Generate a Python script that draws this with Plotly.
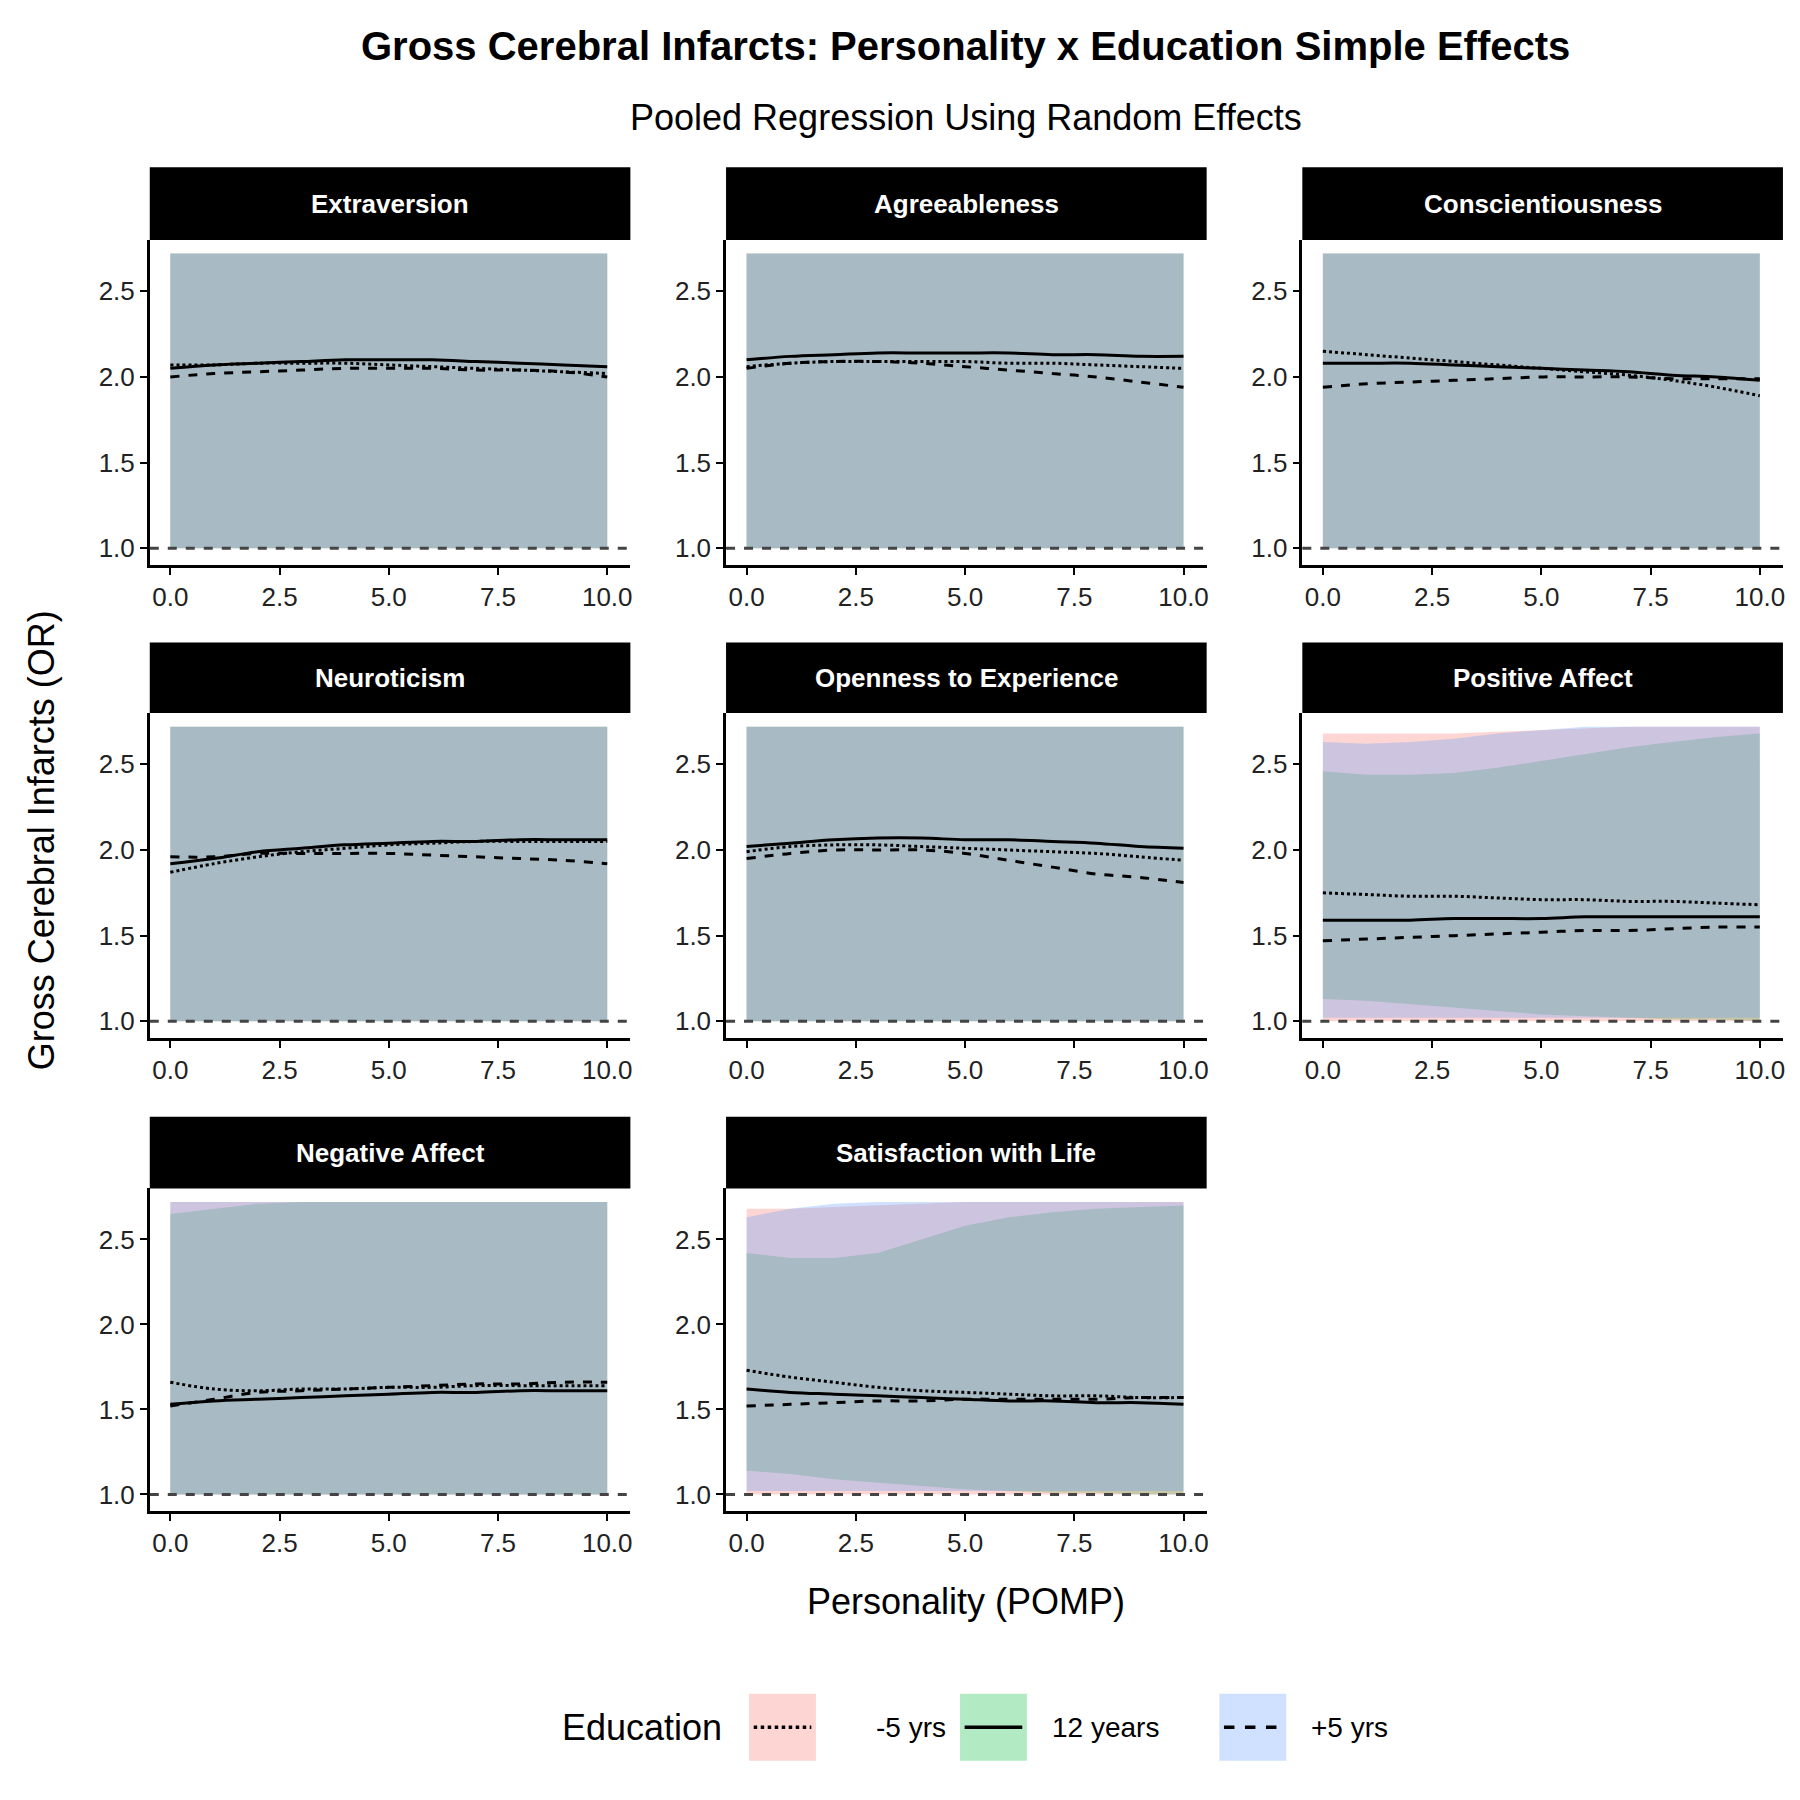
import plotly.graph_objects as go

W = 1560.0
panels = ["Extraversion", "Agreeableness", "Conscientiousness", "Neuroticism",
          "Openness to Experience", "Positive Affect", "Negative Affect", "Satisfaction with Life"]
x = [0, 1, 2, 3, 4, 5, 6, 7, 8, 9, 10]
groups = ["-5 yrs", "12 years", "+5 yrs"]
fill_order = ["12 years", "-5 yrs", "+5 yrs"]
dashes = {"-5 yrs": "dot", "12 years": "solid", "+5 yrs": "dash"}
fills = {"-5 yrs": "rgba(248,118,109,0.3)", "12 years": "rgba(0,186,56,0.3)", "+5 yrs": "rgba(97,156,255,0.3)"}

lines = {
 "Extraversion": {"-5 yrs": [2.07,2.07,2.08,2.08,2.08,2.07,2.06,2.05,2.04,2.03,2.02],
                  "12 years": [2.05,2.07,2.08,2.09,2.10,2.10,2.10,2.09,2.08,2.07,2.06],
                  "+5 yrs": [2.00,2.02,2.03,2.04,2.05,2.05,2.05,2.04,2.04,2.03,2.00]},
 "Agreeableness": {"-5 yrs": [2.06,2.08,2.09,2.09,2.09,2.09,2.08,2.08,2.07,2.06,2.05],
                   "12 years": [2.10,2.12,2.13,2.14,2.14,2.14,2.14,2.13,2.13,2.12,2.12],
                   "+5 yrs": [2.05,2.08,2.09,2.09,2.08,2.06,2.04,2.02,2.00,1.97,1.94]},
 "Conscientiousness": {"-5 yrs": [2.15,2.13,2.11,2.09,2.07,2.05,2.03,2.01,1.98,1.94,1.89],
                       "12 years": [2.08,2.08,2.08,2.07,2.06,2.05,2.04,2.03,2.01,2.00,1.98],
                       "+5 yrs": [1.94,1.96,1.97,1.98,1.99,2.00,2.00,2.00,1.99,1.99,1.99]},
 "Neuroticism": {"-5 yrs": [1.87,1.92,1.96,1.99,2.01,2.03,2.04,2.05,2.05,2.05,2.05],
                 "12 years": [1.92,1.95,1.99,2.01,2.03,2.04,2.05,2.05,2.06,2.06,2.06],
                 "+5 yrs": [1.96,1.96,1.98,1.98,1.98,1.98,1.97,1.96,1.95,1.94,1.92]},
 "Openness to Experience": {"-5 yrs": [1.99,2.02,2.03,2.03,2.02,2.01,2.00,1.99,1.98,1.96,1.94],
                            "12 years": [2.02,2.04,2.06,2.07,2.07,2.06,2.06,2.05,2.04,2.02,2.01],
                            "+5 yrs": [1.95,1.98,2.00,2.00,2.00,1.98,1.94,1.90,1.86,1.84,1.81]},
 "Positive Affect": {"-5 yrs": [1.75,1.74,1.73,1.73,1.72,1.71,1.71,1.70,1.70,1.69,1.68],
                     "12 years": [1.59,1.59,1.59,1.60,1.60,1.60,1.61,1.61,1.61,1.61,1.61],
                     "+5 yrs": [1.47,1.48,1.49,1.50,1.51,1.52,1.53,1.53,1.54,1.55,1.55]},
 "Negative Affect": {"-5 yrs": [1.66,1.62,1.61,1.62,1.62,1.63,1.63,1.64,1.64,1.64,1.64],
                     "12 years": [1.53,1.55,1.56,1.57,1.58,1.59,1.60,1.60,1.61,1.61,1.61],
                     "+5 yrs": [1.52,1.56,1.60,1.61,1.62,1.63,1.64,1.65,1.65,1.66,1.66]},
 "Satisfaction with Life": {"-5 yrs": [1.73,1.69,1.66,1.63,1.61,1.60,1.59,1.58,1.58,1.57,1.57],
                            "12 years": [1.62,1.60,1.59,1.58,1.57,1.56,1.55,1.55,1.54,1.54,1.53],
                            "+5 yrs": [1.52,1.53,1.54,1.55,1.55,1.56,1.56,1.56,1.56,1.57,1.57]},
}

default_upper = [2.72]*11
default_lower = [1.0]*11
upper_override = {
 ("Positive Affect", "-5 yrs"): [2.68,2.68,2.68,2.68,2.69,2.70,2.71,2.72,2.72,2.72,2.72],
 ("Positive Affect", "12 years"): [2.46,2.44,2.44,2.45,2.48,2.52,2.56,2.60,2.63,2.66,2.68],
 ("Positive Affect", "+5 yrs"): [2.63,2.62,2.63,2.65,2.68,2.70,2.72,2.72,2.72,2.72,2.72],
 ("Satisfaction with Life", "-5 yrs"): [2.68,2.68,2.69,2.70,2.71,2.72,2.72,2.72,2.72,2.72,2.72],
 ("Satisfaction with Life", "12 years"): [2.42,2.39,2.39,2.42,2.50,2.58,2.63,2.66,2.68,2.69,2.70],
 ("Satisfaction with Life", "+5 yrs"): [2.63,2.68,2.71,2.72,2.72,2.72,2.72,2.72,2.72,2.72,2.72],
 ("Negative Affect", "12 years"): [2.65,2.68,2.71,2.72,2.72,2.72,2.72,2.72,2.72,2.72,2.72],
}
lower_override = {
 ("Positive Affect", "+5 yrs"): [1.02]*11,
 ("Positive Affect", "12 years"): [1.13,1.12,1.10,1.08,1.06,1.04,1.03,1.02,1.01,1.01,1.0],
 ("Satisfaction with Life", "+5 yrs"): [1.02]*11,
 ("Satisfaction with Life", "12 years"): [1.14,1.12,1.09,1.07,1.05,1.03,1.02,1.01,1.01,1.0,1.0],
}
yticks = [1.0, 1.5, 2.0, 2.5]
xticks = [0, 2.5, 5, 7.5, 10]

FONT = "Liberation Sans, Arial, sans-serif"
colx = [(130, 547), (630, 1047), (1130, 1547)]
rowy = [(145, 208, 490), (557, 618, 900), (968, 1030, 1310)]
OFF = 7
px = lambda v: (v - OFF) / W
py = lambda v: 1 - (v - OFF) / W

fig = go.Figure()
layout = {}
shapes, annos = [], []
for i, p in enumerate(panels):
    r, c = divmod(i, 3)
    n = i + 1
    xa = "x" if n == 1 else f"x{n}"
    ya = "y" if n == 1 else f"y{n}"
    for g in fill_order:
        up = upper_override.get((p, g), default_upper)
        lo = lower_override.get((p, g), default_lower)
        fig.add_trace(go.Scatter(x=x + x[::-1], y=up + lo[::-1], fill="toself", fillcolor=fills[g],
                                 line=dict(width=0), mode="lines", xaxis=xa, yaxis=ya,
                                 showlegend=False, hoverinfo="skip"))
    for g in groups:
        fig.add_trace(go.Scatter(x=x, y=lines[p][g], mode="lines",
                                 line=dict(color="black", width=3, dash=dashes[g], shape="spline"),
                                 xaxis=xa, yaxis=ya, showlegend=False))
    tf = dict(size=26, color="#222", family=FONT)
    ax = dict(domain=[px(colx[c][0]), px(colx[c][1])], range=[-0.47, 10.53], tickvals=xticks,
              ticktext=["0.0", "2.5", "5.0", "7.5", "10.0"], showgrid=False, zeroline=False,
              showline=True, linecolor="black", linewidth=2.5, ticks="outside", ticklen=7, tickwidth=2,
              tickcolor="black", tickfont=tf, anchor=ya)
    ay = dict(domain=[py(rowy[r][2]), py(rowy[r][1])], range=[0.9, 2.8], tickvals=yticks,
              ticktext=["1.0", "1.5", "2.0", "2.5"], showgrid=False, zeroline=False,
              showline=True, linecolor="black", linewidth=2.5, ticks="outside", ticklen=7, tickwidth=2,
              tickcolor="black", tickfont=tf, anchor=xa)
    layout["xaxis" if n == 1 else f"xaxis{n}"] = ax
    layout["yaxis" if n == 1 else f"yaxis{n}"] = ay
    shapes.append(dict(type="line", xref=f"{xa} domain", yref=ya, x0=0, x1=1, y0=1, y1=1,
                       line=dict(color="#444", width=3, dash="dash")))
    shapes.append(dict(type="rect", xref="paper", yref="paper", x0=px(colx[c][0]), x1=px(colx[c][1]),
                       y0=py(rowy[r][1]), y1=py(rowy[r][0]), fillcolor="black", line=dict(width=0)))
    annos.append(dict(text=f"<b>{p}</b>", x=px((colx[c][0] + colx[c][1]) / 2), y=py((rowy[r][0] + rowy[r][1]) / 2),
                      xref="paper", yref="paper", showarrow=False, xanchor="center", yanchor="middle",
                      font=dict(size=26, color="white", family=FONT)))

def txt(t, xx, yy, size, anchor="center", angle=0):
    return dict(text=t, x=px(xx), y=py(yy), xref="paper", yref="paper", showarrow=False, xanchor=anchor,
                yanchor="middle", textangle=angle, font=dict(size=size, color="black", family=FONT))

annos += [
    txt("<b>Gross Cerebral Infarcts: Personality x Education Simple Effects</b>", 838, 40, 40),
    txt("Pooled Regression Using Random Effects", 838, 102, 36),
    txt("Personality (POMP)", 838, 1388, 36),
    txt("Gross Cerebral Infarcts (OR)", 36, 728, 36, angle=-90),
    txt("Education", 628, 1497, 36, anchor="right"),
]
keys = [(650, "rgba(248,118,109,0.3)", "dot", "-5 yrs"), (833, "rgba(0,186,56,0.3)", "solid", "12 years"),
        (1058, "rgba(97,156,255,0.3)", "dash", "+5 yrs")]
for k0, col, d, lab in keys:
    shapes.append(dict(type="rect", xref="paper", yref="paper", x0=px(k0), x1=px(k0 + 58), y0=py(1526), y1=py(1468),
                       fillcolor=col, line=dict(width=0)))
    shapes.append(dict(type="line", xref="paper", yref="paper", x0=px(k0 + 4), x1=px(k0 + 54), y0=py(1497), y1=py(1497),
                       line=dict(color="black", width=3.5, dash=d)))
    annos.append(txt(lab, k0 + 78 if lab != "-5 yrs" else k0 + 108, 1497, 28, anchor="left"))
annos[-3]["x"] = px(758)

fig.update_layout(width=1800, height=1800, margin=dict(l=0, r=0, t=0, b=0), plot_bgcolor="white",
                  paper_bgcolor="white", shapes=shapes, annotations=annos, showlegend=False, **layout)
fig.write_html("out.html")
